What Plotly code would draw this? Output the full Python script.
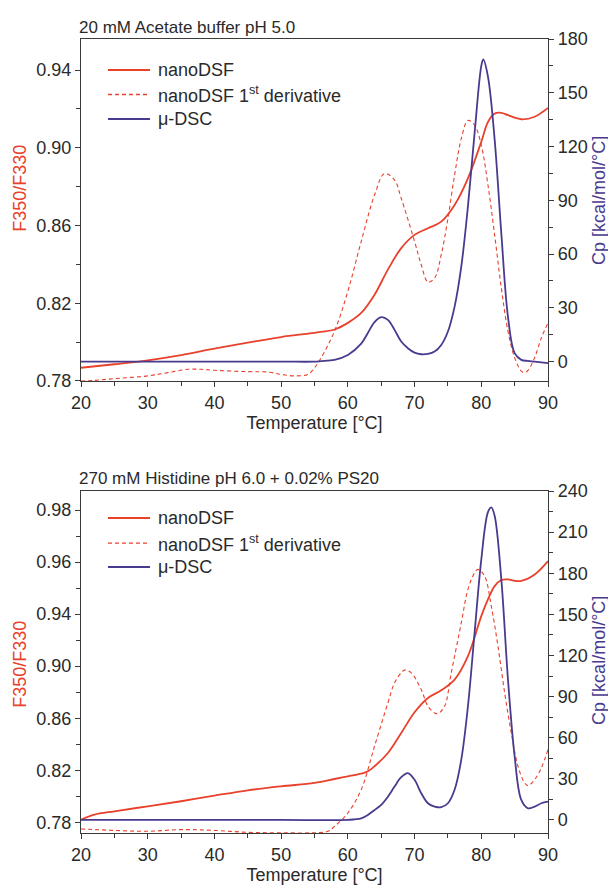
"""
Two stacked thermal-unfolding panels: nanoDSF ratio (left axis),
its 1st derivative (dotted) and micro-DSC heat capacity (right axis).
"""

import plotly.graph_objects as go

RED = "#e8412c"
PURPLE = "#4a3a8e"
INK = "#2a2a2a"
AXIS = "#3a3a3a"
FONT = "Liberation Sans, Arial, Helvetica, sans-serif"

# ---- panel 1: 20 mM Acetate buffer pH 5.0 ----
title_a = "20 mM Acetate buffer pH 5.0"

dsf_a_t = [20, 25, 30, 35, 40, 45, 50, 55, 58, 60, 62, 64, 66, 68, 70, 72, 74, 76,
           78, 80, 81, 82, 83, 84, 86, 88, 90]
dsf_a = [0.7868, 0.7886, 0.7906, 0.7933, 0.7966, 0.7997, 0.8026, 0.8048, 0.8065,
         0.8099, 0.8150, 0.8244, 0.8373, 0.8484, 0.8552, 0.8586, 0.8620, 0.8706,
         0.8843, 0.9031, 0.9133, 0.9176, 0.9180, 0.9168, 0.9147, 0.9160, 0.9205]

der_a_t = [20, 22, 25, 30, 33, 36, 38, 40, 45, 48, 50, 52, 54, 55, 56, 58, 60, 62,
           64, 65.5, 67, 68, 70, 71, 72, 73, 74, 75, 76, 77, 78, 79, 80, 81, 82, 83,
           84, 85, 86, 86.5, 87, 88, 89, 90]
der_a = [0.7800, 0.7803, 0.7812, 0.7826, 0.7843, 0.7860, 0.7860, 0.7855, 0.7848,
         0.7846, 0.7834, 0.7826, 0.7834, 0.7868, 0.7920, 0.8056, 0.8262, 0.8518,
         0.8757, 0.8868, 0.8834, 0.8740, 0.8518, 0.8398, 0.8309, 0.8330, 0.8450,
         0.8637, 0.8860, 0.9047, 0.9141, 0.9116, 0.9014, 0.8809, 0.8552, 0.8279,
         0.8056, 0.7920, 0.7851, 0.7843, 0.7855, 0.7920, 0.8022, 0.8099]

dsc_a_t = [20, 30, 40, 50, 55, 56, 58, 60, 62, 63, 64, 65, 66, 67, 68, 69, 70, 71,
           72, 73, 74, 75, 76, 77, 78, 79, 80, 80.3, 81, 82, 83, 84, 85, 86, 87, 88, 90]
dsc_a = [0, 0, 0, 0, 0, 0.3, 1, 3.7, 10, 16, 22, 24.8, 23.3, 17.7, 11.2, 7.5, 5,
         4.1, 4.3, 5.6, 9.3, 16.8, 30.7, 53, 86.6, 127.6, 165, 168.6, 159, 124,
         71.7, 25, 4.7, 1, 0.4, 0, -0.9]

# ---- panel 2: 270 mM Histidine pH 6.0 + 0.02% PS20 ----
title_b = "270 mM Histidine pH 6.0 + 0.02% PS20"

dsf_b_t = [20, 22, 25, 30, 35, 40, 45, 50, 55, 58, 60, 62, 63, 64, 66, 68, 70, 72,
           74, 76, 78, 80, 81, 82, 83, 84, 85, 86, 88, 90]
dsf_b = [0.7820, 0.7859, 0.7885, 0.7923, 0.7962, 0.8005, 0.8046, 0.8077, 0.8103,
         0.8133, 0.8154, 0.8174, 0.8192, 0.8231, 0.8333, 0.8487, 0.8646, 0.8756,
         0.8815, 0.8897, 0.9077, 0.9385, 0.9513, 0.9615, 0.9662, 0.9667, 0.9656,
         0.9656, 0.9705, 0.9808]

der_b_t = [20, 25, 30, 35, 40, 45, 50, 55, 57, 58, 60, 62, 64, 66, 67, 68, 68.5,
           69.5, 71, 72, 73, 73.5, 74.5, 75.5, 77, 78, 79, 79.5, 80.5, 81.5, 82.5,
           83.5, 84.5, 85.5, 86.5, 87, 88, 89, 90]
der_b = [0.7749, 0.7738, 0.7731, 0.7744, 0.7738, 0.7723, 0.7720, 0.7720, 0.7731,
         0.7769, 0.7872, 0.8051, 0.8385, 0.8718, 0.8872, 0.8949, 0.8970, 0.8949,
         0.8820, 0.8692, 0.8641, 0.8636, 0.8692, 0.8949, 0.9333, 0.9590, 0.9718,
         0.9744, 0.9692, 0.9462, 0.9154, 0.8795, 0.8487, 0.8231, 0.8103, 0.8082,
         0.8128, 0.8218, 0.8359]

dsc_b_t = [20, 30, 40, 50, 60, 61, 62, 63, 64, 65, 66, 67, 68, 69, 70, 71, 72, 73,
           74, 75, 76, 77, 78, 79, 80, 81, 81.5, 82, 83, 84, 85, 86, 87, 88, 89, 90]
dsc_b = [0, 0, 0, 0, 0, 0.5, 1.2, 3.7, 7.3, 11, 17, 24.4, 31.2, 34.2, 29.3, 19.5,
         12.2, 9.8, 9.3, 12.2, 22, 44, 83, 136.7, 190, 224.6, 228, 222, 175.7,
         102.5, 46.4, 14.6, 8.5, 9.8, 12.2, 13.4]

# tick labels as printed (panel 2 left axis is labelled unevenly in the source)
left_a_vals = [0.78, 0.82, 0.86, 0.90, 0.94]
left_a_text = ["0.78", "0.82", "0.86", "0.90", "0.94"]
left_b_vals = [0.78, 0.82, 0.86, 0.90, 0.94, 0.98, 1.02]
left_b_text = ["0.78", "0.82", "0.86", "0.90", "0.94", "0.96", "0.98"]

names = ["nanoDSF", "nanoDSF 1<sup>st</sup> derivative", "μ-DSC"]
styles = [dict(color=RED, width=1.8),
          dict(color=RED, width=1.1, dash="4px,3px"),
          dict(color=PURPLE, width=1.8)]

fig = go.Figure()


def add_panel(xa, ya, ya2, t_dsf, v_dsf, t_der, v_der, t_dsc, v_dsc):
    for t, v, y, i in [(t_dsf, v_dsf, ya, 0), (t_der, v_der, ya, 1), (t_dsc, v_dsc, ya2, 2)]:
        fig.add_trace(go.Scatter(x=t, y=v, xaxis=xa, yaxis=y, mode="lines",
                                 name=names[i], line_shape="spline", line=styles[i],
                                 showlegend=False))


add_panel("x", "y", "y2", dsf_a_t, dsf_a, der_a_t, der_a, dsc_a_t, dsc_a)
add_panel("x2", "y3", "y4", dsf_b_t, dsf_b, der_b_t, der_b, dsc_b_t, dsc_b)

tickfont = dict(size=18, color=INK, family=FONT)
common = dict(showline=True, linecolor=AXIS, linewidth=1.4, ticks="outside",
              ticklen=5, tickwidth=1.3, tickcolor=AXIS, showgrid=False,
              zeroline=False, tickfont=tickfont)


def xaxis(anchor):
    return dict(common, anchor=anchor, domain=[0, 1], range=[20, 90], dtick=10,
                tick0=20, mirror=True,
                minor=dict(ticks="outside", dtick=5, ticklen=4, tickcolor=AXIS),
                title=dict(text="Temperature [°C]", standoff=0,
                           font=dict(size=18, color=INK)))


def left_axis(domain, rng, vals, text, anchor):
    mids = [(a + b) / 2 for a, b in zip(vals[:-1], vals[1:])]
    return dict(common, domain=domain, range=rng, anchor=anchor, tickmode="array",
                tickvals=vals, ticktext=text,
                minor=dict(ticks="outside", tickmode="array", tickvals=mids,
                           ticklen=4, tickcolor=AXIS))


def right_axis(over, anchor, rng):
    return dict(common, overlaying=over, anchor=anchor, side="right", range=rng,
                dtick=30, tick0=0,
                minor=dict(ticks="outside", dtick=15, ticklen=4, tickcolor=AXIS))


top_dom = [0.5693, 1.0]
bot_dom = [0.0, 0.4307]

# the page body adds an 8px offset, so the figure is 8px smaller on each side
fig.update_layout(
    width=608, height=883, autosize=False,
    paper_bgcolor="white", plot_bgcolor="white",
    font=dict(family=FONT, color=INK, size=18),
    margin=dict(l=73, r=68, t=31, b=58),
    xaxis=xaxis("y"),
    xaxis2=xaxis("y3"),
    yaxis=left_axis(top_dom, [0.78, 0.956], left_a_vals, left_a_text, "x"),
    yaxis2=right_axis("y", "x", [-10.8, 180]),
    yaxis3=left_axis(bot_dom, [0.7718, 1.0346], left_b_vals, left_b_text, "x2"),
    yaxis4=right_axis("y3", "x2", [-9.5, 240]),
    showlegend=False,
)

# panel titles
for txt, yy in [(title_a, 1.0151), (title_b, 0.4471)]:
    fig.add_annotation(text=txt, xref="paper", yref="paper", x=-0.009, y=yy,
                       xanchor="left", yanchor="middle", showarrow=False,
                       font=dict(size=17, color=INK, family=FONT))

# y-axis titles, coloured like their series
for yy_l, yy_r in [(0.8123, 0.797), (0.2128, 0.2179)]:
    fig.add_annotation(text="F350/F330", xref="paper", yref="paper", x=-0.131,
                       y=yy_l, textangle=-90, showarrow=False,
                       xanchor="center", yanchor="middle",
                       font=dict(size=18, color=RED, family=FONT))
    fig.add_annotation(text="Cp [kcal/mol/°C]", xref="paper", yref="paper", x=1.109,
                       y=yy_r, textangle=-90, showarrow=False,
                       xanchor="center", yanchor="middle",
                       font=dict(size=18, color=PURPLE, family=FONT))

# hand-drawn legends (one per panel)
for rows in [(0.9610, 0.9301, 0.8992), (0.3967, 0.3652, 0.3350)]:
    for i, yy in enumerate(rows):
        st = styles[i]
        fig.add_shape(type="line", xref="paper", yref="paper", x0=0.0578, x1=0.1478,
                      y0=yy, y1=yy,
                      line=dict(color=st["color"], width=st["width"] + 0.2,
                                dash=st.get("dash", "solid")))
        fig.add_annotation(text=names[i], xref="paper", yref="paper", x=0.1606, y=yy,
                           xanchor="left", yanchor="middle", showarrow=False,
                           font=dict(size=18, color=INK, family=FONT))

fig.write_html("out.html")
